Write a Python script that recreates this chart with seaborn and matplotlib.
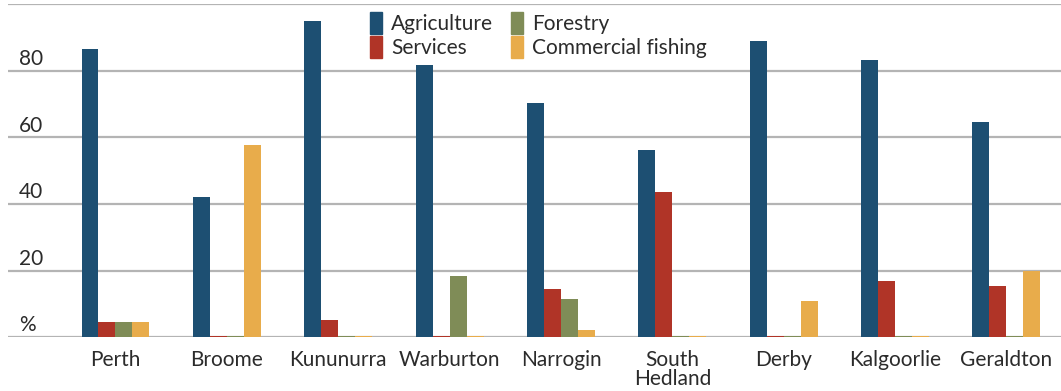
import numpy as np
import pandas as pd
import seaborn as sns
import matplotlib.pyplot as plt
from matplotlib.transforms import blended_transform_factory

# data (%)
towns = ["Perth", "Broome", "Kununurra", "Warburton", "Narrogin",
         "South\nHedland", "Derby", "Kalgoorlie", "Geraldton"]
sectors = ["Agriculture", "Services", "Forestry", "Commercial fishing"]
agriculture = [86.6, 42.1, 95.0, 81.8, 70.4, 56.1, 89.0, 83.3, 64.7]
services = [4.5, 0.3, 5.1, 0.3, 14.4, 43.6, 0.3, 16.8, 15.3]
forestry = [4.5, 0.3, 0.3, 18.3, 11.4, 0.3, 0.3, 0.3, 0.3]
fishing = [4.5, 57.7, 0.3, 0.3, 2.1, 0.3, 10.8, 0.3, 19.8]
colors = ["#1d4f72", "#b03427", "#7f8c57", "#e8ac4b"]
y_ticks = [0, 20, 40, 60, 80]
y_labels = ["%", "20", "40", "60", "80"]

df = pd.DataFrame({
    "town": np.tile(towns, 4),
    "sector": np.repeat(sectors, len(towns)),
    "value": agriculture + services + forestry + fishing,
})

sns.set_style("white")
plt.rcParams["font.family"] = ["Lato", "DejaVu Sans"]
text_col = "#2b2b2b"
fs = 15

W, H = 1061, 391
fig = plt.figure(figsize=(W / 100, H / 100), dpi=100)
ax = fig.add_axes([8 / W, 54 / H, (W - 8) / W, (337 - 4.5) / H])

sns.barplot(data=df, x="town", y="value", hue="sector", order=towns,
            hue_order=sectors, palette=colors, width=0.61, gap=0,
            saturation=1, edgecolor="none", linewidth=0, ax=ax, zorder=3)

ax.set_ylim(0, 100)
ax.set_xlim(-0.965, 8.49)
for g in [0, 20, 40, 60, 80, 100]:
    ax.axhline(g, color="#b4b4b4", lw=1.6, zorder=1)
for s in ax.spines.values():
    s.set_visible(False)

# y labels sit inside the plot, just above each gridline
trans = blended_transform_factory(ax.transAxes, ax.transData)
ax.set_yticks([])
for v, lab in zip(y_ticks, y_labels):
    ax.text(11 / (W - 8), v + 0.6, lab, transform=trans, ha="left",
            va="bottom", fontsize=fs, color=text_col)

ax.set_xticks(range(len(towns)))
ax.set_xticklabels(towns, fontsize=fs, color=text_col, linespacing=0.95)
ax.tick_params(axis="x", length=0, pad=9.5)
ax.set_xlabel("")
ax.set_ylabel("")

ax.legend_.remove()
handles = [plt.Rectangle((0, 0), 1, 1, color=c) for c in colors]
fig.legend(handles, sectors, ncol=2, loc="upper left",
           bbox_to_anchor=(370 / W, 1 - 12 / H), frameon=False,
           fontsize=fs, handlelength=0.57, handleheight=1.25,
           handletextpad=0.45, labelspacing=0.1, columnspacing=0.85,
           borderpad=0, borderaxespad=0, labelcolor=text_col)

plt.savefig("out.png", dpi=100)
